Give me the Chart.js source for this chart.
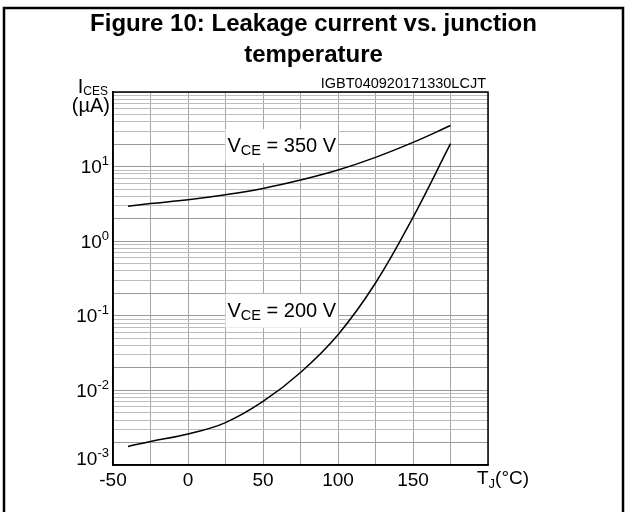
<!DOCTYPE html>
<html>
<head>
<meta charset="utf-8">
<script src="https://cdn.jsdelivr.net/npm/chart.js@4.4.0/dist/chart.umd.min.js"></script>
<style>
  html, body { margin: 0; padding: 0; background: #fff; }
  canvas { display: block; }
</style>
</head>
<body>
<canvas id="chart" width="627" height="512"></canvas>
<script>
// junction temperature (°C)
const tempC = [-40, -25, 0, 25, 50, 75, 100, 125, 150, 175];
// leakage current I_CES (µA)
const ices350V = [2.95, 3.2, 3.6, 4.2, 5.1, 6.6, 9.0, 13.3, 21.1, 35.5];
const ices200V = [0.00177, 0.00207, 0.0026, 0.0037, 0.0071, 0.0174, 0.0558, 0.275, 2.09, 20.3];

const xLabels = [-50, 0, 50, 100, 150];
const yDecades = [-3, -2, -1, 0, 1];
const curveNames = ['350 V', '200 V'];
const labelAt = [[62.5, 18.8], [62.5, 0.117]];

const FONT = "'Liberation Sans', Arial, Helvetica, sans-serif";

function pts(ys) {
  return tempC.map((t, i) => ({ x: t, y: ys[i] }));
}

// draw a run of text pieces (for sub/superscripts), baseline y
function runs(ctx, pieces, x, y, align) {
  let w = 0;
  pieces.forEach(p => {
    ctx.font = (p.bold ? 'bold ' : '') + p.size + 'px ' + FONT;
    p.w = ctx.measureText(p.text).width;
    w += p.w;
  });
  let cx = align === 'right' ? x - w : align === 'center' ? x - w / 2 : x;
  ctx.textAlign = 'left';
  ctx.textBaseline = 'alphabetic';
  ctx.fillStyle = '#000';
  pieces.forEach(p => {
    ctx.font = (p.bold ? 'bold ' : '') + p.size + 'px ' + FONT;
    ctx.fillText(p.text, cx, y + (p.dy || 0));
    cx += p.w;
  });
  return w;
}

const decor = {
  id: 'decor',
  beforeDraw(chart) {
    const ctx = chart.ctx;
    ctx.save();
    ctx.fillStyle = '#fff';
    ctx.fillRect(0, 0, chart.width, chart.height);
    ctx.restore();
  },
  beforeDatasetsDraw(chart) {
    const ctx = chart.ctx;
    const xs = chart.scales.x, ys = chart.scales.y;
    ctx.save();
    curveNames.forEach((name, i) => {
      const cx = xs.getPixelForValue(labelAt[i][0]);
      const cy = ys.getPixelForValue(labelAt[i][1]);
      const pieces = [
        { text: 'V', size: 20 },
        { text: 'CE', size: 14.5, dy: 3 },
        { text: ' = ' + name, size: 20 }
      ];
      ctx.font = '20px ' + FONT;
      let w = ctx.measureText('V' + ' = ' + name).width;
      ctx.font = '14.5px ' + FONT;
      w += ctx.measureText('CE').width;
      ctx.fillStyle = '#fff';
      ctx.fillRect(cx - w / 2 - 2, cy - 17, w + 4, 34);
      runs(ctx, pieces, cx, cy + 6, 'center');
    });
    ctx.restore();
  },
  afterDraw(chart) {
    const ctx = chart.ctx;
    const a = chart.chartArea;
    const ys = chart.scales.y;
    ctx.save();

    // plot frame
    ctx.strokeStyle = '#000';
    ctx.lineWidth = 1.5;
    ctx.strokeRect(a.left, a.top, a.right - a.left, a.bottom - a.top);

    // outer figure frame (bottom edge falls outside the picture)
    ctx.lineWidth = 2.5;
    ctx.beginPath();
    ctx.moveTo(4, 520);
    ctx.lineTo(4, 8);
    ctx.lineTo(623, 8);
    ctx.lineTo(623, 520);
    ctx.stroke();

    // title
    ctx.fillStyle = '#000';
    ctx.textAlign = 'center';
    ctx.textBaseline = 'alphabetic';
    ctx.font = 'bold 24px ' + FONT;
    ctx.fillText('Figure 10: Leakage current vs. junction', 313.5, 31);
    ctx.fillText('temperature', 313.5, 62);

    // y decade labels
    yDecades.forEach((d, i) => {
      let y = ys.getPixelForValue(Math.pow(10, d)) + 6.5;
      if (i === 0) y -= 7;
      const ew = runs(ctx, [{ text: String(d), size: 13, dy: -8 }], 109, y, 'right');
      runs(ctx, [{ text: '10', size: 19 }], 109 - ew, y, 'right');
    });

    // axis titles
    runs(ctx, [{ text: 'I', size: 20 }, { text: 'CES', size: 12, dy: 2 }], 108, 93, 'right');
    runs(ctx, [{ text: '(µA)', size: 20 }], 110, 112, 'right');
    runs(ctx, [{ text: 'T', size: 19 }, { text: 'J', size: 13, dy: 4 }, { text: '(°C)', size: 19 }], 477, 484, 'left');

    // drawing code
    runs(ctx, [{ text: 'IGBT040920171330LCJT', size: 14.5 }], a.right - 2, 88, 'right');
    ctx.restore();
  }
};

const gridGray = '#a6a6a6';

new Chart(document.getElementById('chart'), {
  type: 'line',
  data: {
    datasets: [
      { label: 'VCE = 350 V', data: pts(ices350V) },
      { label: 'VCE = 200 V', data: pts(ices200V) }
    ].map(d => Object.assign(d, {
      borderColor: '#000',
      borderWidth: 1.5,
      pointRadius: 0,
      fill: false,
      tension: 0.4
    }))
  },
  options: {
    responsive: false,
    animation: false,
    devicePixelRatio: 1,
    layout: { padding: { left: 0, top: 92, right: 139, bottom: 0 } },
    plugins: { legend: { display: false }, title: { display: false }, tooltip: { enabled: false } },
    scales: {
      x: {
        type: 'linear',
        min: -50,
        max: 200,
        afterFit: s => { s.height = 47; },
        border: { color: '#000', width: 1.5 },
        grid: { color: gridGray, lineWidth: 1, drawTicks: false },
        ticks: {
          stepSize: 25,
          autoSkip: false,
          maxRotation: 0,
          padding: 4,
          color: '#000',
          font: { family: FONT, size: 19 },
          callback: v => xLabels.includes(v) ? String(v) : ''
        }
      },
      y: {
        type: 'logarithmic',
        min: 0.001,
        max: 100,
        afterFit: s => { s.width = 113; },
        afterBuildTicks: s => {
          const t = [];
          for (let d = -3; d <= 1; d++) {
            for (let m = 1; m <= 9; m++) t.push({ value: m * Math.pow(10, d) });
          }
          t.push({ value: 100 });
          s.ticks = t;
        },
        border: { color: '#000', width: 1.5 },
        grid: {
          drawTicks: false,
          lineWidth: 1,
          color: c => {
            const v = c.tick.value;
            const m = Math.round(v / Math.pow(10, Math.floor(Math.log10(v) + 1e-9)));
            return (m === 1 || m === 2) ? '#9a9a9a' : '#bdbdbd';
          }
        },
        ticks: { display: false }
      }
    }
  },
  plugins: [decor]
});
</script>
</body>
</html>
